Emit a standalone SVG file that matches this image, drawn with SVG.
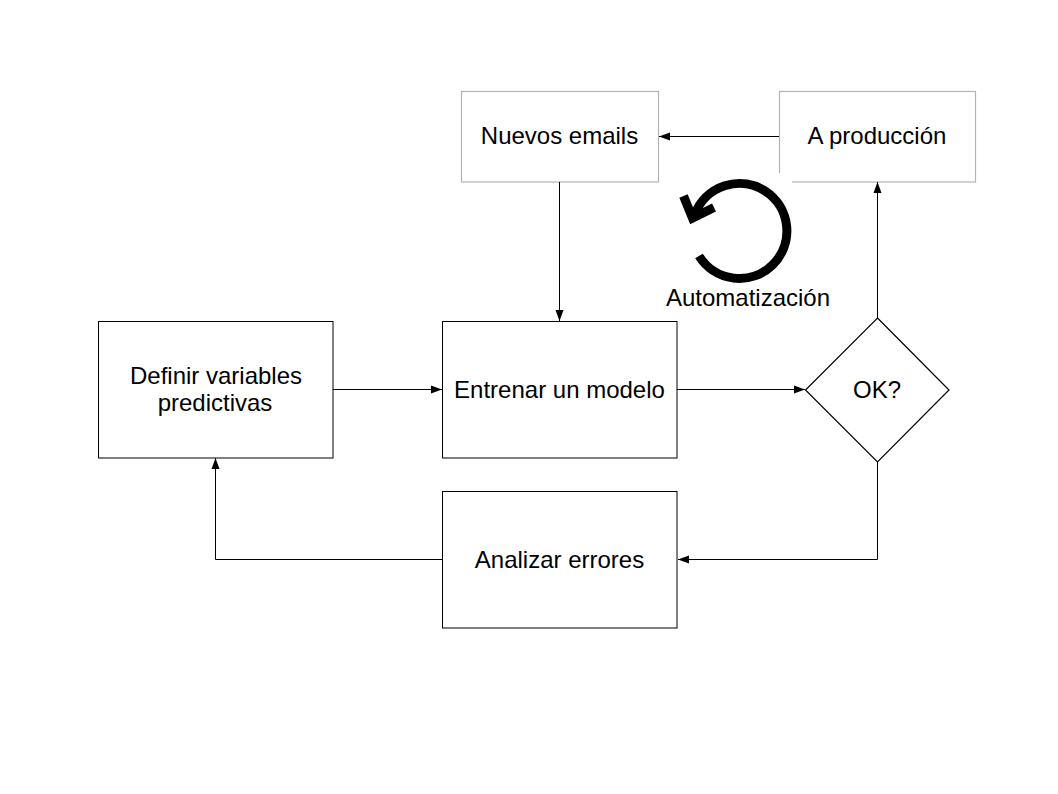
<svg xmlns="http://www.w3.org/2000/svg" width="1058" height="794" viewBox="0 0 1058 794">
<style>
.box{fill:#fff;stroke:#000;stroke-width:1}
.light{fill:#fff;stroke:#b3b3b3;stroke-width:1.2}
.lbl{font-family:"Liberation Sans",Arial,sans-serif;font-size:24px;fill:#000;text-anchor:middle}
.conn{fill:none;stroke:#000;stroke-width:1}
</style>
<defs>
<marker id="a" markerUnits="userSpaceOnUse" markerWidth="12" markerHeight="10" refX="11" refY="5" orient="auto"><path d="M0,1 L11,5 L0,9 Z" fill="#000"/></marker>
</defs>
<rect width="1058" height="794" fill="#fff"/>
<g id="nuevos-emails"><rect class="light" x="461.500" y="91.500" width="197" height="90.500"/><text class="lbl" x="559.500" y="143.500">Nuevos emails</text></g>
<g id="a-produccion"><rect class="light" x="779.500" y="91.500" width="196" height="90.500"/><text class="lbl" x="877" y="143.500">A producción</text></g>
<g id="definir"><rect class="box" x="98.500" y="321.500" width="234.500" height="136.500"/><text class="lbl" x="216" y="383.500">Definir variables</text><text class="lbl" x="215" y="410.500">predictivas</text></g>
<g id="entrenar"><rect class="box" x="442.500" y="321.500" width="234.500" height="136.500"/><text class="lbl" x="559.500" y="397.500">Entrenar un modelo</text></g>
<g id="ok"><path class="box" stroke-width="1.200" style="stroke-width:1.200" d="M877.500,318 L949,390 L877.500,462 L805.500,390 Z"/><text class="lbl" x="877" y="397.500">OK?</text></g>
<g id="analizar"><rect class="box" x="442.500" y="491.500" width="234.500" height="136.500"/><text class="lbl" x="559.500" y="567.500">Analizar errores</text></g>
<g id="connectors">
<path class="conn" d="M779,136.500 H659" marker-end="url(#a)"/>
<path class="conn" d="M559.500,182 V321" marker-end="url(#a)"/>
<path class="conn" d="M333,389.500 H442" marker-end="url(#a)"/>
<path class="conn" d="M677,389.500 H805" marker-end="url(#a)"/>
<path class="conn" d="M877.500,318 V182" marker-end="url(#a)"/>
<path class="conn" d="M877.500,462 V559.500 H678" marker-end="url(#a)"/>
<path class="conn" d="M442,559.500 H215.500 V458" marker-end="url(#a)"/>
</g>
<g id="automatizacion">
<rect x="776" y="173" width="16" height="12" fill="#fff"/>
<path d="M699,256 A47.500,47.500 0 1 0 695,214" fill="none" stroke="#000" stroke-width="9"/>
<path d="M683.500,196 L692.500,218 L714,207.500" fill="none" stroke="#000" stroke-width="9"/>
<text class="lbl" x="748" y="305.500">Automatización</text>
</g>
</svg>
